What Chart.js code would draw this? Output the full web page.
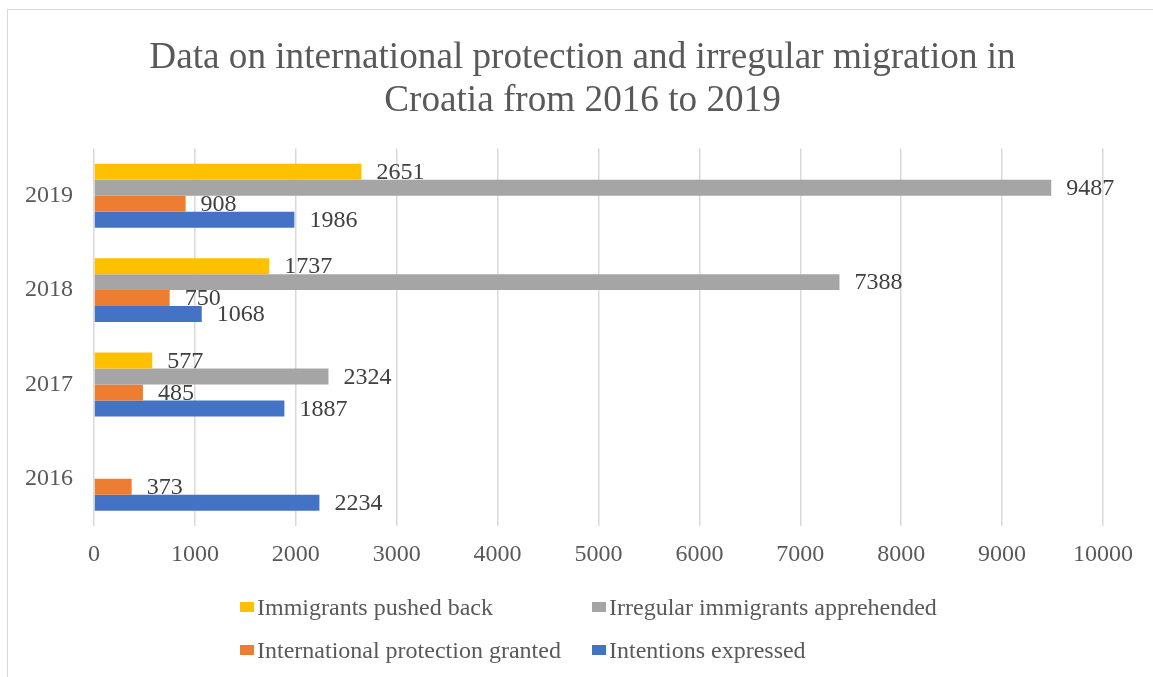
<!doctype html>
<html lang="en">
<head>
<meta charset="utf-8">
<title>International protection and irregular migration in Croatia</title>
<script src="https://cdn.jsdelivr.net/npm/chart.js@4.4.1/dist/chart.umd.min.js"></script>
<style>
    html, body { margin: 0; padding: 0; background: #fff; overflow: hidden; }
    #frame {
        position: absolute; left: 7px; top: 9px; width: 1300px; height: 900px;
        border-left: 1.5px solid #d9d9d9; border-top: 1.5px solid #d9d9d9;
    }
    #chart { position: absolute; left: 0; top: 0; }
    #legend {
        position: absolute; left: 240px; top: 593px;
        display: grid; grid-template-columns: 352px auto; row-gap: 15px;
        font-family: "Liberation Serif", "Times New Roman", serif;
        font-size: 24px; color: #595959; line-height: 28px;
    }
    .item { display: flex; align-items: center; white-space: nowrap; }
    .box { width: 14px; height: 10px; margin-right: 3px; }
</style>
</head>
<body>
<div id="frame"></div>
<canvas id="chart" width="1153" height="677"></canvas>
<div id="legend"></div>

<script>
var years = ["2016", "2017", "2018", "2019"];
var pushedBack = [null, 577, 1737, 2651];
var apprehended = [null, 2324, 7388, 9487];
var protectionGranted = [373, 485, 750, 908];
var intentions = [2234, 1887, 1068, 1986];

var seriesNames = ["Immigrants pushed back", "Irregular immigrants apprehended",
                   "International protection granted", "Intentions expressed"];
var seriesColors = ["#ffc000", "#a5a5a5", "#ed7d31", "#4472c4"];
var xTicksMax = 10000;
var xTicksStep = 1000;

var serif = "'Liberation Serif', 'Times New Roman', serif";

// labels at the end of each bar, like Excel "outside end"
var valueLabels = {
    id: "valueLabels",
    afterDatasetsDraw: function(chart) {
        var ctx = chart.ctx;
        ctx.save();
        ctx.font = "24px " + serif;
        ctx.fillStyle = "#404040";
        ctx.textAlign = "left";
        ctx.textBaseline = "middle";
        chart.data.datasets.forEach(function(ds, i) {
            var meta = chart.getDatasetMeta(i);
            meta.data.forEach(function(bar, j) {
                var v = ds.data[j];
                if (v === null || v === undefined) return;
                ctx.fillText(String(v), bar.x + 15, bar.y + 1);
            });
        });
        ctx.restore();
    }
};

var allSeries = [pushedBack, apprehended, protectionGranted, intentions];
var datasets = [];
for (var k in allSeries) {
    datasets.push({
        label: seriesNames[k],
        data: allSeries[k],
        backgroundColor: seriesColors[k],
        borderWidth: 0
    });
}

var ctx = document.getElementById("chart").getContext("2d");
var myChart = new Chart(ctx, {
    type: "bar",
    data: { labels: years, datasets: datasets },
    plugins: [valueLabels],
    options: {
        indexAxis: "y",
        responsive: false,
        animation: false,
        categoryPercentage: 0.677,
        barPercentage: 1,
        layout: { padding: { left: 12, right: 0, top: 0, bottom: 110 } },
        plugins: {
            legend: { display: false },
            tooltip: { enabled: false },
            title: {
                display: true,
                text: ["Data on international protection and irregular migration in",
                       "Croatia from 2016 to 2019"],
                color: "#595959",
                font: { family: serif, size: 37.2, weight: "normal", lineHeight: 1.15 },
                padding: { top: 37, bottom: 26 }
            }
        },
        scales: {
            x: {
                min: 0,
                max: xTicksMax,
                ticks: {
                    stepSize: xTicksStep,
                    color: "#595959",
                    font: { family: serif, size: 24 },
                    padding: 14,
                    maxRotation: 0,
                    callback: function(value) { return String(value); }
                },
                grid: { color: "#d9d9d9", lineWidth: 1.5, drawTicks: false },
                border: { display: false },
                afterFit: function(scale) { scale.height = 41; }
            },
            y: {
                reverse: true,
                ticks: {
                    color: "#595959",
                    font: { family: serif, size: 24 },
                    padding: 21
                },
                grid: { display: false, drawTicks: false },
                border: { display: false },
                afterFit: function(scale) { scale.width = 82; }
            },
            // empty right margin so the title stays centred on the frame
            yRight: {
                type: "category",
                position: "right",
                ticks: { display: false },
                grid: { display: false, drawTicks: false },
                border: { display: false },
                afterFit: function(scale) { scale.width = 50; }
            }
        }
    }
});

// legend in two aligned columns
var html = "";
for (var m in seriesNames) {
    html += "<div class='item'><span class='box' style='background:" + seriesColors[m] +
            "'></span><span>" + seriesNames[m] + "</span></div>";
}
document.getElementById("legend").innerHTML = html;
</script>
</body>
</html>
